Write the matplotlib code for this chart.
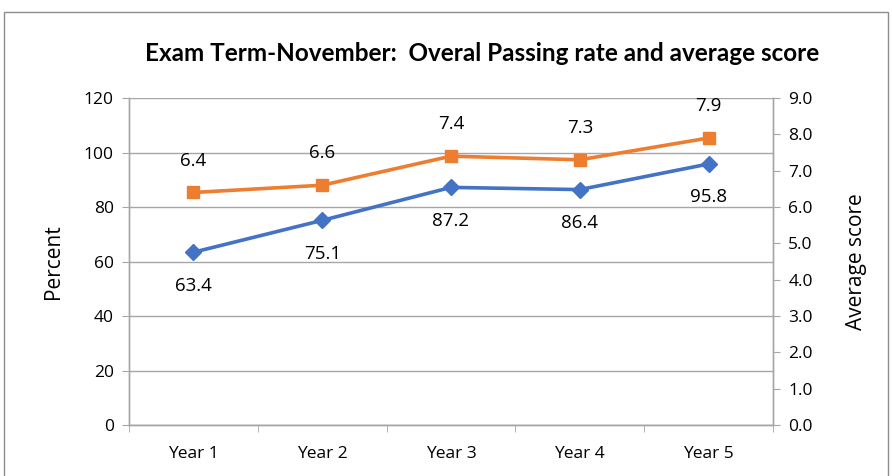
import matplotlib.pyplot as plt
from matplotlib.patches import Rectangle

years = ["Year 1", "Year 2", "Year 3", "Year 4", "Year 5"]
passing_rate = [63.4, 75.1, 87.2, 86.4, 95.8]
avg_score = [6.4, 6.6, 7.4, 7.3, 7.9]

blue = "#4472C4"
orange = "#ED7D31"
grid_col = "#A6A6A6"

plt.rcParams['font.family'] = ['Open Sans', 'DejaVu Sans']

fig = plt.figure(figsize=(8.92, 4.76), dpi=100)
ax = fig.add_axes([0.1446, 0.1071, 0.722, 0.687])
ax2 = ax.twinx()

x = list(range(len(years)))

ax.plot(x, passing_rate, color=blue, lw=2.6, marker="D", ms=8, zorder=3)
ax2.plot(x, avg_score, color=orange, lw=2.6, marker="s", ms=9, zorder=3)

for i, v in zip(x, passing_rate):
    ax.annotate("%.1f" % v, (i, v), xytext=(0, -24), textcoords="offset points",
                ha="center", va="center", fontsize=13.5, color="black")
for i, v in zip(x, avg_score):
    ax2.annotate("%.1f" % v, (i, v), xytext=(0, 23), textcoords="offset points",
                 ha="center", va="center", fontsize=13.5, color="black")

ax.set_xlim(-0.5, len(years) - 0.5)
ax.set_ylim(0, 120)
ax.set_yticks(range(0, 121, 20))
ax2.set_ylim(0, 9)
ax2.set_yticks([i * 1.0 for i in range(10)])
ax2.set_yticklabels(["%.1f" % (i * 1.0) for i in range(10)])

ax.set_xticks(x)
ax.set_xticklabels(years)
ax.set_xticks([i - 0.5 for i in range(len(years) + 1)], minor=True)
ax.tick_params(axis="x", which="major", length=0, pad=15, labelsize=12.5)
ax.tick_params(axis="x", which="minor", length=5, color=grid_col)
ax.tick_params(axis="y", length=5, color=grid_col, labelsize=12.5, pad=6)
ax2.tick_params(axis="y", length=5, color=grid_col, labelsize=12.5, pad=6)

ax.grid(axis="y", color=grid_col, lw=1)
ax.set_axisbelow(True)

for a in (ax, ax2):
    a.spines["top"].set_visible(False)
    for s in ("left", "right", "bottom"):
        a.spines[s].set_color(grid_col)
        a.spines[s].set_linewidth(1)

ax.set_ylabel("Percent", fontsize=15, labelpad=14)
ax2.set_ylabel("Average score", fontsize=15, labelpad=24)

fig.text(0.541, 0.887, "Exam Term-November:  Overal Passing rate and average score",
         ha="center", va="center", fontsize=17.5, fontweight="bold",
         family=["Lato", "DejaVu Sans"])

fig.patches.append(Rectangle((0.0045, -0.05), 0.991, 1.025, transform=fig.transFigure,
                             fill=False, edgecolor="#8C8C8C", lw=1))

fig.savefig("out.png", dpi=100)
